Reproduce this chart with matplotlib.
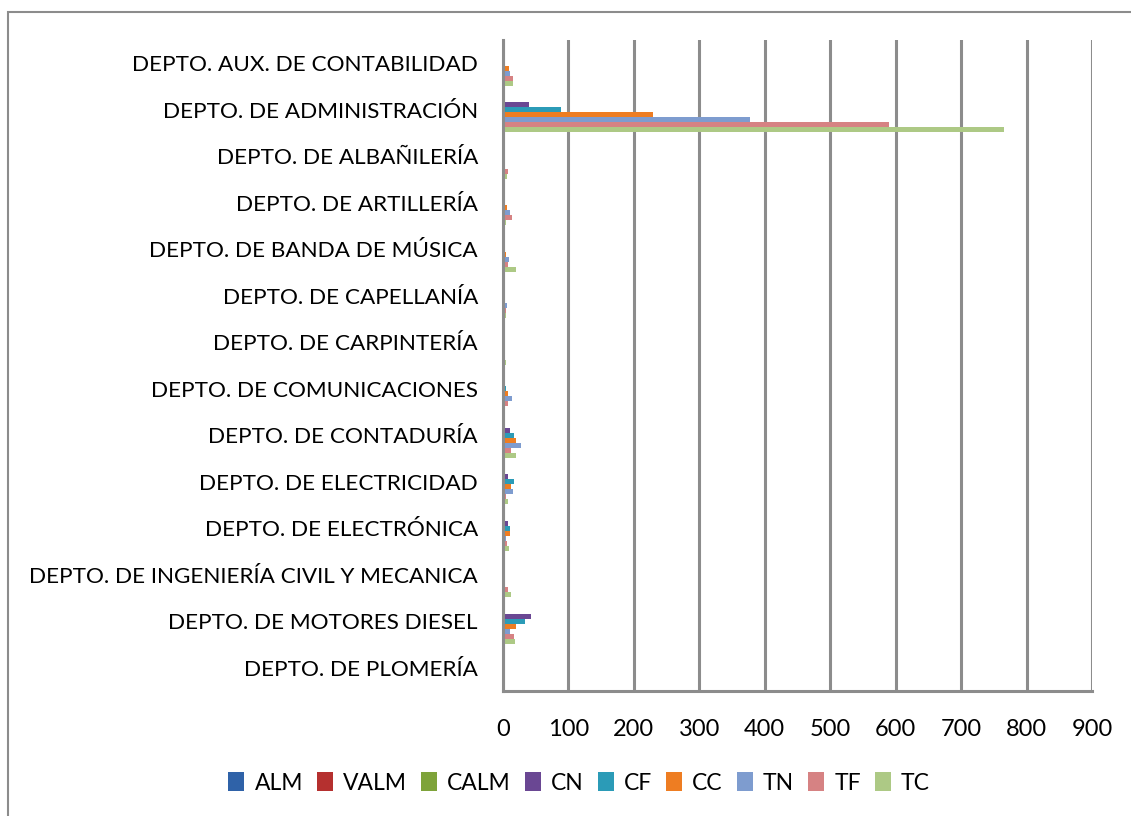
import matplotlib
matplotlib.use("Agg")
import matplotlib.pyplot as plt
import numpy as np
from matplotlib.patches import Rectangle

plt.rcParams['font.family'] = ['Lato', 'DejaVu Sans']

categories = [
    "DEPTO. AUX. DE CONTABILIDAD",
    "DEPTO. DE ADMINISTRACIÓN",
    "DEPTO. DE ALBAÑILERÍA",
    "DEPTO. DE ARTILLERÍA",
    "DEPTO. DE BANDA DE MÚSICA",
    "DEPTO. DE CAPELLANÍA",
    "DEPTO. DE CARPINTERÍA",
    "DEPTO. DE COMUNICACIONES",
    "DEPTO. DE CONTADURÍA",
    "DEPTO. DE ELECTRICIDAD",
    "DEPTO. DE ELECTRÓNICA",
    "DEPTO. DE INGENIERÍA CIVIL Y MECANICA",
    "DEPTO. DE MOTORES DIESEL",
    "DEPTO. DE PLOMERÍA",
]

series_names = ["ALM", "VALM", "CALM", "CN", "CF", "CC", "TN", "TF", "TC"]

ALM  = [0, 0, 0, 0, 0, 0, 0, 0, 0, 0, 0, 0, 0, 0]
VALM = [0, 0, 0, 0, 0, 0, 0, 0, 0, 0, 0, 0, 0, 0]
CALM = [0, 0, 0, 0, 0, 0, 0, 0, 0, 0, 0, 0, 1, 0]
CN   = [0, 39, 1, 0, 0, 0.5, 0, 1, 10, 7, 7, 1, 43, 0]
CF   = [1, 88, 1, 1, 1, 0.5, 1, 4, 16.5, 16.5, 10, 2.5, 33.5, 0]
CC   = [9, 229, 1, 5.5, 4, 0, 2.5, 7, 19.5, 12, 10, 1, 19.5, 2.5]
TN   = [10, 378, 0, 10, 9, 5.5, 0, 13, 27, 15, 4, 0, 10, 1]
TF   = [16, 590, 7, 13, 7, 4, 2.5, 7, 12, 4, 5.5, 7, 16.5, 1]
TC   = [16, 765, 5.5, 4, 20, 4, 4, 0, 19.5, 7, 9, 12, 18, 0.5]

series_values = [ALM, VALM, CALM, CN, CF, CC, TN, TF, TC]
colors = ["#2F62A8", "#B5302F", "#7EA33A", "#6A4793", "#2B9BB7",
          "#EE7D22", "#7E9CCF", "#D68283", "#ADC985"]

fig = plt.figure(figsize=(11.31, 8.16), dpi=100)
ax = fig.add_axes([503 / 1131, 1 - 691 / 816, (1092 - 503) / 1131, (691 - 40) / 816])

n = len(series_names)
h = 0.97 / n
y = np.arange(len(categories))
handles = []
for j, (name, vals, c) in enumerate(zip(series_names, series_values, colors)):
    b = ax.barh(y + (j - (n - 1) / 2) * h, vals, height=h, color=c, label=name,
                edgecolor='none')
    handles.append(b)

ax.set_ylim(len(categories) - 0.5, -0.5)
ax.set_xlim(0, 900)
ax.set_xticks(range(0, 901, 100))
ax.set_yticks(y)
ax.set_yticklabels(categories, fontsize=16.2)
ax.tick_params(axis='x', labelsize=17, length=0, pad=20)
ax.tick_params(axis='y', length=0, pad=18)
ax.xaxis.grid(True, color='#8C8C8C', linewidth=2.2)
ax.set_axisbelow(True)
for s in ['top', 'right']:
    ax.spines[s].set_visible(False)
for s in ['left', 'bottom']:
    ax.spines[s].set_color('#8C8C8C')
    ax.spines[s].set_linewidth(2.2)

leg = fig.legend(handles=handles, labels=series_names, loc='center',
                 bbox_to_anchor=(579 / 1131, 1 - 783 / 816), ncol=9,
                 frameon=False, fontsize=16.5, handlelength=0.7, handleheight=0.9,
                 handletextpad=0.45, columnspacing=0.6)

fig.patches.append(Rectangle((8 / 1131, -0.1), 1.2, 1 - 12 / 816 + 0.1,
                             transform=fig.transFigure, fill=False,
                             edgecolor='#8C8C8C', linewidth=1.5))

fig.savefig("out.png", dpi=100)
